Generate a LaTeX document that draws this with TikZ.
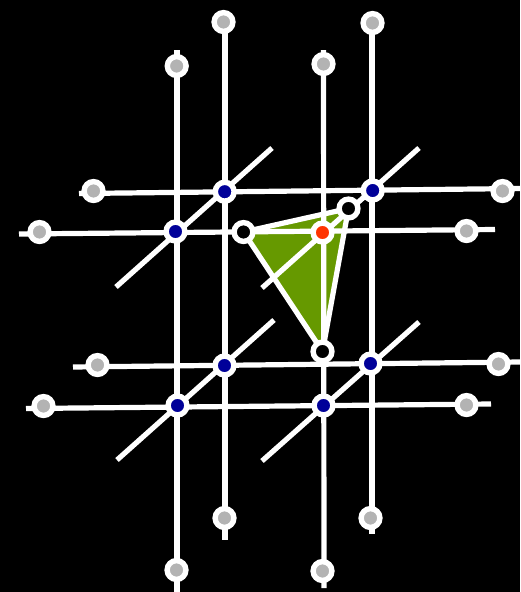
\documentclass[tikz,border=0pt]{standalone}
\usetikzlibrary{backgrounds}
\definecolor{nodegrey}{HTML}{B3B3B3}
\definecolor{nodeblue}{HTML}{000099}
\definecolor{nodered}{HTML}{FF3300}
\definecolor{facegreen}{HTML}{669900}
\tikzset{
  wire/.style={line width=5.2pt,white},
  dot/.style={circle,draw=white,line width=5.4pt,inner sep=0pt,outer sep=0pt,minimum size=18.8pt},
  outerdot/.style={dot,fill=nodegrey},
  innerdot/.style={dot,fill=nodeblue},
  activedot/.style={dot,fill=nodered},
  opendot/.style={dot,fill=black}
}
\begin{document}
\begin{tikzpicture}[x=1pt,y=-1pt]
        \useasboundingbox (0,0) rectangle (520,592);
        %nodi interni
        \node[innerdot] (a1) at (224.7,191.7) {};
        \node[innerdot] (a2) at (372.7,190.5) {};
        \node[innerdot] (a3) at (175.5,231.5) {};
        \node[innerdot] (b1) at (224.5,365.5) {};
        \node[innerdot] (b2) at (370.5,363.5) {};
        \node[innerdot] (b3) at (177.5,405.5) {};
        \node[innerdot] (b4) at (323.5,405.5) {};
        %triangolo e nodo attivo
        \node[activedot] (act) at (322.5,232.5) {};
        \node[opendot] (t1) at (243.5,232) {};
        \node[opendot] (t2) at (348.5,208.5) {};
        \node[opendot] (t3) at (322.5,351.5) {};
        %nodi esterni sopra e sotto
        \node[outerdot] (n1) at (223.5,22) {};
        \node[outerdot] (n2) at (372.5,23) {};
        \node[outerdot] (n3) at (176.7,66) {};
        \node[outerdot] (n4) at (323.5,64) {};
        \node[outerdot] (s1) at (224.5,518) {};
        \node[outerdot] (s2) at (370.5,518) {};
        \node[outerdot] (s3) at (176.5,570) {};
        \node[outerdot] (s4) at (322.5,571) {};
        %nodi esterni a sinistra e destra
        \node[outerdot] (w1) at (93.5,191) {};
        \node[outerdot] (w2) at (39.5,232) {};
        \node[outerdot] (w3) at (97.5,365) {};
        \node[outerdot] (w4) at (43.5,406) {};
        \node[outerdot] (e1) at (502.5,191) {};
        \node[outerdot] (e2) at (466.5,231) {};
        \node[outerdot] (e3) at (498.5,364) {};
        \node[outerdot] (e4) at (466.5,405) {};
        %estremi liberi
        \coordinate (v1) at (225,540);
        \coordinate (v2) at (372,534);
        \coordinate (v3) at (177,50);
        \coordinate (v4) at (177,592);
        \coordinate (v5) at (323.5,50);
        \coordinate (v6) at (324,588);
        \coordinate (v7) at (225,24);
        \coordinate (v8) at (372,24);
        \coordinate (h1) at (79,193.5);
        \coordinate (h2) at (520,188.5);
        \coordinate (h3) at (19,234);
        \coordinate (h4) at (495,229.5);
        \coordinate (h5) at (73,367);
        \coordinate (h6) at (520,362);
        \coordinate (h7) at (26,408.5);
        \coordinate (h8) at (491,404);
        \coordinate (d1) at (116,287);
        \coordinate (d2) at (272,148);
        \coordinate (d3) at (262,288);
        \coordinate (d4) at (419,148);
        \coordinate (d5) at (117,460);
        \coordinate (d6) at (274,320);
        \coordinate (d7) at (262,461);
        \coordinate (d8) at (419,322);
        \begin{pgfonlayer}{background}
        %sfondo e faccia verde
        \fill[black] (0,0) rectangle (520,592);
        \fill[facegreen] (t1.center) -- (t2.center) -- (t3.center) -- cycle;
        %linee verticali
        \draw[wire] (v7) -- (v1);
        \draw[wire] (v8) -- (v2);
        \draw[wire] (v3) -- (v4);
        \draw[wire] (v5) -- (v6);
        %linee orizzontali
        \draw[wire] (h1) -- (h2);
        \draw[wire] (h3) -- (h4);
        \draw[wire] (h5) -- (h6);
        \draw[wire] (h7) -- (h8);
        %linee diagonali
        \draw[wire] (d1) -- (d2);
        \draw[wire] (d3) -- (d4);
        \draw[wire] (d5) -- (d6);
        \draw[wire] (d7) -- (d8);
        %bordo del triangolo
        \draw[wire] (t1) -- (t2) -- (t3) -- (t1);
        \end{pgfonlayer}
\end{tikzpicture}
\end{document}
